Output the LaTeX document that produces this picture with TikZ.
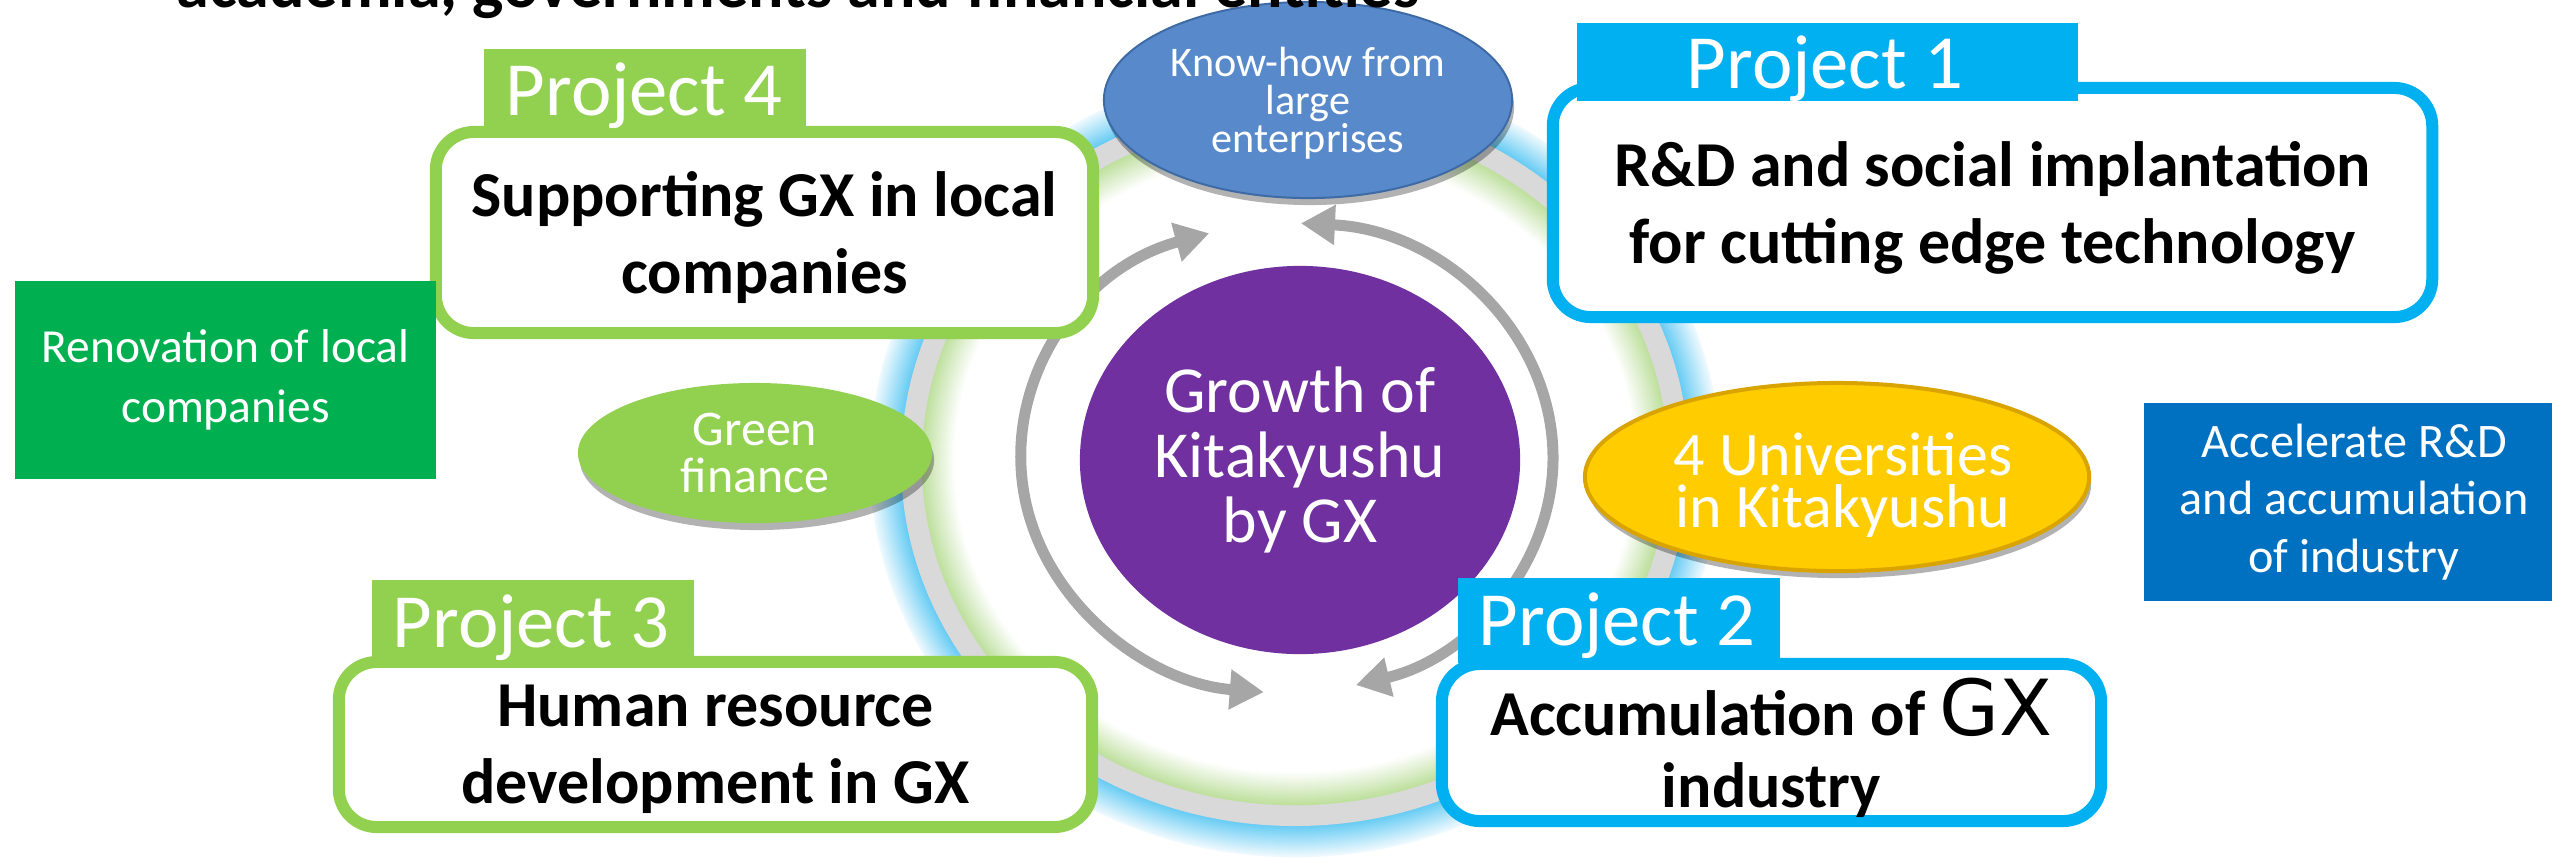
\documentclass[tikz,border=0pt]{standalone}
\usepackage{fontspec}
\setmainfont{Carlito}
\newfontfamily\gxfont{DejaVu Sans}
\usetikzlibrary{shapes.geometric,arrows.meta,shadows,calc}
\definecolor{pgreen}{HTML}{92D050}
\definecolor{pcyan}{HTML}{00B0F0}
\definecolor{purp}{HTML}{7030A0}
\definecolor{kblue}{HTML}{588ACB}
\definecolor{kblueline}{HTML}{3E6BA6}
\definecolor{uyellow}{HTML}{FFCC00}
\definecolor{uyline}{HTML}{D9A400}
\definecolor{rgreen}{HTML}{00B050}
\definecolor{ablue}{HTML}{0070C0}
\definecolor{agray}{HTML}{A6A6A6}
\definecolor{ringblue}{HTML}{4EC3F2}
\definecolor{ringgray}{HTML}{D9D9D9}
\definecolor{ringgreen}{HTML}{BFE09F}
\tikzset{
  pbox/.style={draw, line width=0.12cm, fill=white, rounded corners=0.38cm, align=center,
    inner sep=0pt, text depth=0pt, font=\bfseries\fontsize{18.2}{22}\selectfont},
  ptab/.style={fill, inner sep=0pt, anchor=north west},
  ptabtext/.style={text=white, anchor=base, inner sep=0pt, font=\fontsize{21.8}{24}\selectfont},
  whitetext/.style={text=white, align=center, inner sep=0pt},
  garrow/.style={draw=agray, line width=0.11cm,
    arrows={Triangle[length=0.34cm,width=0.38cm]-Triangle[length=0.34cm,width=0.38cm]}},
  softshadow/.style={drop shadow={shadow xshift=0.02cm, shadow yshift=-0.07cm, opacity=0.3, fill=black}},
}
\begin{document}
\begin{tikzpicture}[x=0.01cm,y=-0.01cm]
\useasboundingbox (0,0) rectangle (2552,857);

% ring
\coordinate (rc) at (1295,462);
\foreach \d in {0,2,...,30} {
  \pgfmathtruncatemacro\p{10+75*\d/30}
  \draw[line width=0.026cm, ringblue!\p!white] (rc) ellipse [x radius={424-\d}, y radius={394-\d}];
}
\draw[line width=0.22cm, ringgray] (rc) ellipse [x radius=383, y radius=353];
\foreach \d in {52,54,...,84} {
  \pgfmathtruncatemacro\p{100-100*(\d-52)/32}
  \draw[line width=0.026cm, ringgreen!\p!white] (rc) ellipse [x radius={424-\d}, y radius={394-\d}];
}

% cycle arrows
\coordinate (ac) at (1287,458);
\draw[garrow] ($(ac)+(253:266 and 235)$) arc [start angle=253, end angle=95, x radius=266, y radius=235];
\draw[garrow] ($(ac)+(-87:266 and 235)$) arc [start angle=-87, end angle=75, x radius=266, y radius=235];

% centre
\node[ellipse, fill=purp, minimum width=4.4cm, minimum height=3.88cm, whitetext,
  font=\fontsize{18.7}{18.4}\selectfont] (growth) at (1300,460) {Growth of\\Kitakyushu\\by GX};

% ellipses
\node[ellipse, fill=kblue, draw=kblueline, line width=0.02cm, softshadow, minimum width=4.08cm,
  minimum height=1.96cm, whitetext, text depth=0pt, font=\fontsize{12}{10.8}\selectfont] (know) at (1308,100)
  {Know-how from\\large\\enterprises};
\node[ellipse, fill=pgreen, softshadow, minimum width=3.54cm, minimum height=1.40cm, whitetext,
  font=\fontsize{14.2}{13.2}\selectfont] (gfin) at (755,453) {Green\\finance};
\node[ellipse, fill=uyellow, draw=uyline, line width=0.04cm, softshadow, minimum width=5.04cm,
  minimum height=1.88cm] (univ) at (1837,477) {};
\node[whitetext, font=\fontsize{17.6}{15}\selectfont] (univtext) at (1843,485)
  {4 Universities\\in Kitakyushu};

% project boxes
\node[pbox, draw=pgreen, minimum width=6.57cm, minimum height=2.01cm] (p4box) at (764.5,232.5)
  {Supporting GX in local\\companies};
\node[pbox, draw=pcyan, minimum width=8.79cm, minimum height=2.29cm] (p1box) at (1992.5,202.5)
  {R\&D and social implantation\\for cutting edge technology};
\node[pbox, draw=pgreen, minimum width=7.53cm, minimum height=1.65cm] (p3box) at (715.5,744.5)
  {Human resource\\development in GX};
\node[pbox, draw=pcyan, minimum width=6.59cm, minimum height=1.57cm,
  font=\bfseries\fontsize{18.2}{20.6}\selectfont] (p2box) at (1771.5,742.5)
  {Accumulation of {\gxfont\mdseries\fontsize{22}{20.6}\selectfont GX}\\industry};

% tabs
\node[ptab, fill=pgreen, minimum width=3.22cm, minimum height=0.84cm] (p4tab) at (483,48) {};
\node[ptabtext] (p4lab) at (644,115) {Project 4};
\node[ptab, fill=pcyan, minimum width=5.01cm, minimum height=0.78cm] (p1tab) at (1576,22) {};
\node[ptabtext] (p1lab) at (1825,88) {Project 1};
\node[ptab, fill=pgreen, minimum width=3.22cm, minimum height=0.83cm] (p3tab) at (371,579) {};
\node[ptabtext] (p3lab) at (531,647) {Project 3};
\node[ptab, fill=pcyan, minimum width=3.22cm, minimum height=0.85cm] (p2tab) at (1457,577) {};
\node[ptabtext] (p2lab) at (1617,645) {Project 2};

% side boxes
\node[rectangle, fill=rgreen, minimum width=4.21cm, minimum height=1.98cm, whitetext,
  font=\fontsize{13.5}{16.9}\selectfont] (renov) at (225.5,380) {Renovation of local\\companies};
\node[rectangle, fill=ablue, minimum width=4.2cm, minimum height=1.98cm, whitetext,
  font=\fontsize{13.7}{16.4}\selectfont] (accel) at (2354,502) {Accelerate R\&D\\and accumulation\\of industry};

% cut-off heading
\node[anchor=base west, inner sep=0pt, font=\bfseries\fontsize{18.8}{20}\selectfont] (head) at (176,7)
  {academia, governments and financial entities};
\end{tikzpicture}
\end{document}
